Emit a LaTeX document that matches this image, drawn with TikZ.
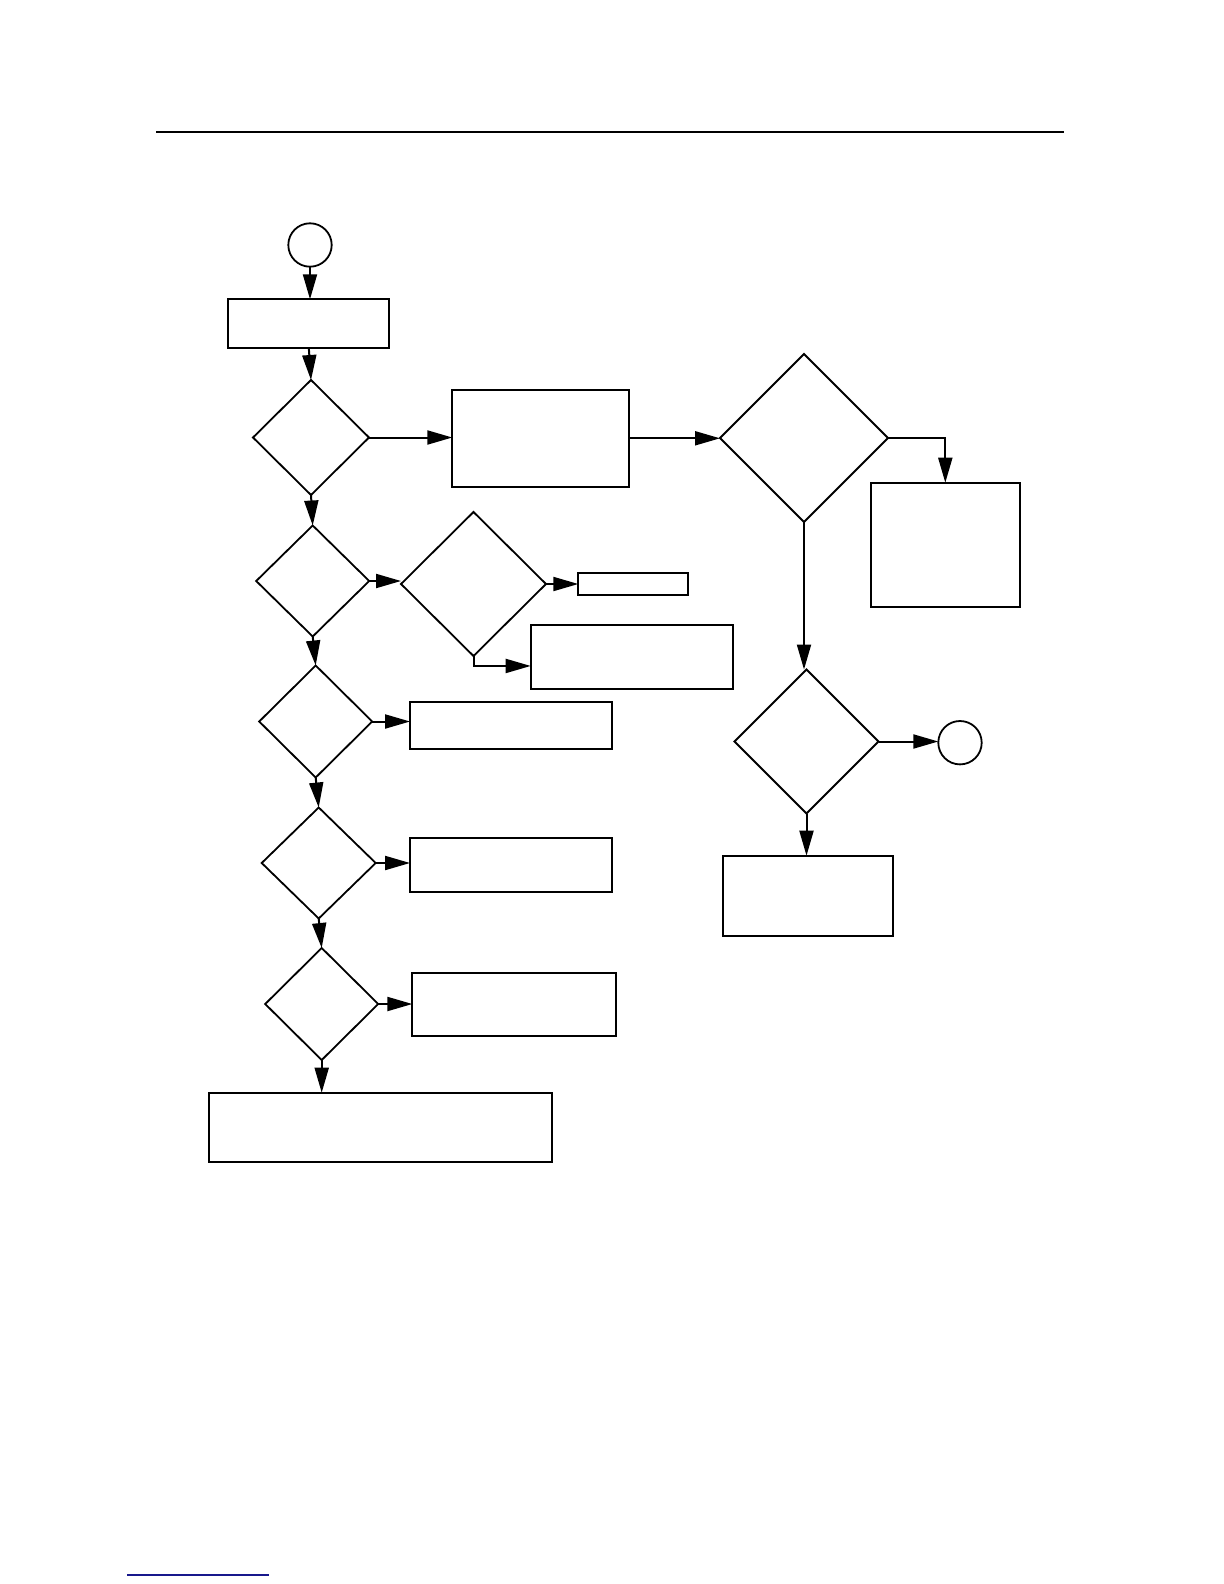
\documentclass[tikz,border=0pt]{standalone}
\usetikzlibrary{shapes.geometric,arrows.meta,calc}
\definecolor{rulenavy}{RGB}{24,24,140}
\tikzset{
  px/.style={x=0.5pt,y=-0.5pt},
  dia/.style 2 args={draw,line width=0.9pt,shape=diamond,inner sep=0pt,outer sep=0pt,
    minimum width=#1*0.5pt,minimum height=#2*0.5pt},
  box/.style 2 args={draw,line width=1pt,rectangle,inner sep=0pt,outer sep=0pt,
    minimum width=#1*0.5pt,minimum height=#2*0.5pt},
  term/.style={draw,line width=0.9pt,circle,inner sep=0pt,outer sep=0pt,minimum size=21.7pt},
  conn/.style={line width=1pt,-{Triangle[length=12.5pt,width=7pt]}},
  plain/.style={line width=1pt},
}
\begin{document}
\begin{tikzpicture}[px]
\useasboundingbox (0,0) rectangle (1224,1584);
% page rules
\draw[line width=1pt] (156,132.5) -- (1064,132.5);
\draw[line width=0.8pt,rulenavy] (127,1575) -- (269,1575);

% left column
\node[term] (c1) at (310,245) {};
\node[box={161}{48.4}] (r1) at (308.8,323.5) {};
\node[dia={116}{115}] (d1) at (311,437.5) {};
\node[box={177}{96.7}] (r2) at (540.8,438.3) {};
\node[dia={113}{111}] (d2) at (312.7,581) {};
\node[dia={145}{144}] (d3) at (473.5,584) {};
\node[box={110}{21.7}] (rs) at (633.3,584.2) {};
\node[box={202.6}{64}] (r3) at (632,657) {};
\node[dia={113}{112}] (d4) at (315.7,721.5) {};
\node[box={202.3}{47.3}] (r4) at (511.2,725.3) {};
\node[dia={114}{111}] (d5) at (318.7,863) {};
\node[box={202.3}{54.6}] (r5) at (511.2,865) {};
\node[dia={113}{112}] (d6) at (321.7,1004) {};
\node[box={203.7}{62.7}] (r6) at (514.2,1004.7) {};
\node[box={343}{69}] (r7) at (380.8,1127.2) {};

% right column
\node[dia={168}{168}] (e1) at (804,438) {};
\node[box={149.3}{124}] (q1) at (945.3,544.7) {};
\node[dia={144}{144}] (e2) at (806.5,741.5) {};
\node[term] (c2) at (960,742.7) {};
\node[box={170}{80}] (q2) at (808.3,895.7) {};

% connectors
\draw[conn] (c1.south) -- (c1.south |- r1.north);
\draw[conn] (r1.south) -- (d1.north);
\draw[conn] (d1.east) -- (d1.east -| r2.west);
\draw[conn] (d1.south) -- (d2.north);
\draw[conn] (r2.east) -- (r2.east -| e1.west);
\draw[conn] (e1.east) -| (q1.north);
\draw[conn] (e1.south) -- (e1.south |- e2.north);
\draw[conn] (e2.east) -- (e2.east -| c2.west);
\draw[conn] (e2.south) -- (e2.south |- q2.north);
\draw[conn] (d2.east) -- (d2.east -| d3.west);
\draw[conn] (d3.east) -- (d3.east -| rs.west);
\draw[conn] (d3.south) |- ($(r3.south west)!0.36!(r3.north west)$);
\draw[conn] (d2.south) -- (d4.north);
\draw[conn] (d4.east) -- (d4.east -| r4.west);
\draw[conn] (d4.south) -- (d5.north);
\draw[conn] (d5.east) -- (d5.east -| r5.west);
\draw[conn] (d5.south) -- (d6.north);
\draw[conn] (d6.east) -- (d6.east -| r6.west);
\draw[conn] (d6.south) -- (d6.south |- r7.north);
\end{tikzpicture}
\end{document}
